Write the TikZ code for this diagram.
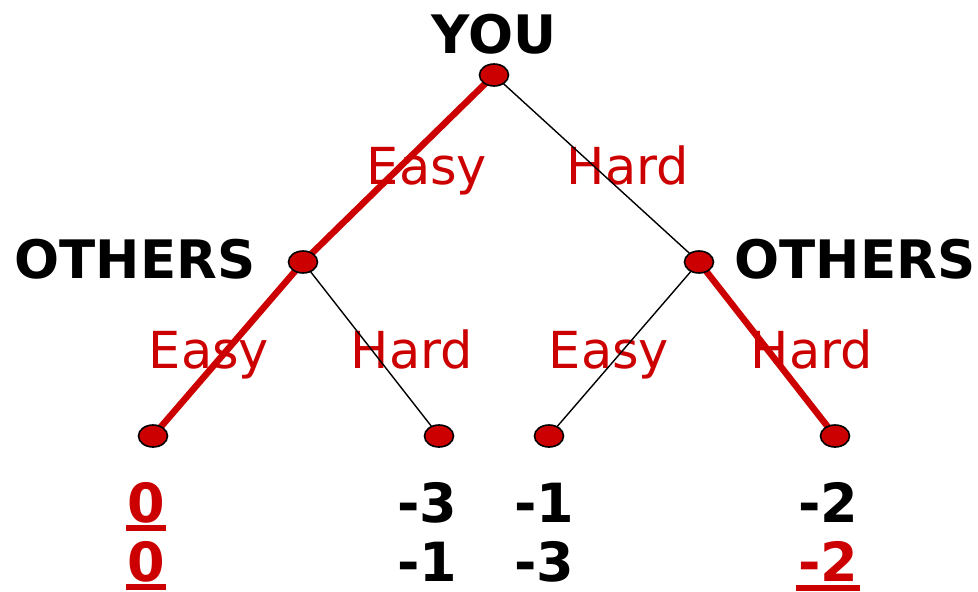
\documentclass[tikz,border=0pt]{standalone}
\usepackage{fontspec}
\setmainfont{DejaVu Sans}
\usetikzlibrary{shapes.geometric,backgrounds,calc}
\definecolor{dred}{HTML}{CC0000}
\tikzset{
  dot/.style={ellipse,draw=black,line width=1.6pt,fill=dred,minimum width=29pt,minimum height=22pt,inner sep=0pt},
  player/.style={inner sep=0pt,anchor=base,font=\fontsize{53}{60}\selectfont\bfseries},
  move/.style={inner sep=0pt,anchor=base,text=dred,font=\fontsize{51}{58}\selectfont},
  pay/.style={inner sep=0pt,anchor=base,font=\fontsize{54}{60}\selectfont\bfseries},
  rpay/.style={pay,text=dred},
  chosen/.style={draw=dred,line width=6.5pt},
  other/.style={draw=black,line width=1.4pt},
  uline/.style={fill=dred}
}
\begin{document}
\begin{tikzpicture}[x=1pt,y=-1pt]
\useasboundingbox (0,0) rectangle (978,592);
% decision nodes
\node[dot] (you) at (494,75) {};
\node[dot] (ol) at (303,262) {};
\node[dot] (or) at (699,262) {};
\node[dot] (l1) at (153,436) {};
\node[dot] (l2) at (439,436) {};
\node[dot] (l3) at (549,436) {};
\node[dot] (l4) at (835,436) {};
\begin{pgfonlayer}{background}
% player names
\node[player] (tyou) at (494,53) {YOU};
\node[player] (tol) at (135,278) {OTHERS};
\node[player] (tor) at (855,278) {OTHERS};
% move labels
\node[move] (m1) at (427,184) {Easy};
\node[move] (m2) at (628,184) {Hard};
\node[move] (m3) at (209,368) {Easy};
\node[move] (m4) at (412,368) {Hard};
\node[move] (m5) at (609,368) {Easy};
\node[move] (m6) at (812,368) {Hard};
% payoffs
\node[rpay] (p1a) at (146,522) {0};
\node[rpay] (p1b) at (146,581) {0};
\node[pay] (p2a) at (427,522) {-3};
\node[pay] (p2b) at (427,581) {-1};
\node[pay] (p3a) at (544,522) {-1};
\node[pay] (p3b) at (544,581) {-3};
\node[pay] (p4a) at (828,522) {-2};
\node[rpay] (p4b) at (828,581) {-2};
\fill[uline] ($(p1a.base west)+(-1,3)$) rectangle ($(p1a.base east)+(1,9)$);
\fill[uline] ($(p1b.base west)+(-1,3)$) rectangle ($(p1b.base east)+(1,9)$);
\fill[uline] ($(p4b.base west)+(-2,4)$) rectangle ($(p4b.base east)+(2,10)$);
% edges
\draw[chosen] (you.center) -- (ol.center);
\draw[other] (you.center) -- (or.center);
\draw[chosen] (ol.center) -- (l1.center);
\draw[other] (ol.center) -- (l2.center);
\draw[other] (or.center) -- (l3.center);
\draw[chosen] (or.center) -- (l4.center);
\end{pgfonlayer}
\end{tikzpicture}
\end{document}
